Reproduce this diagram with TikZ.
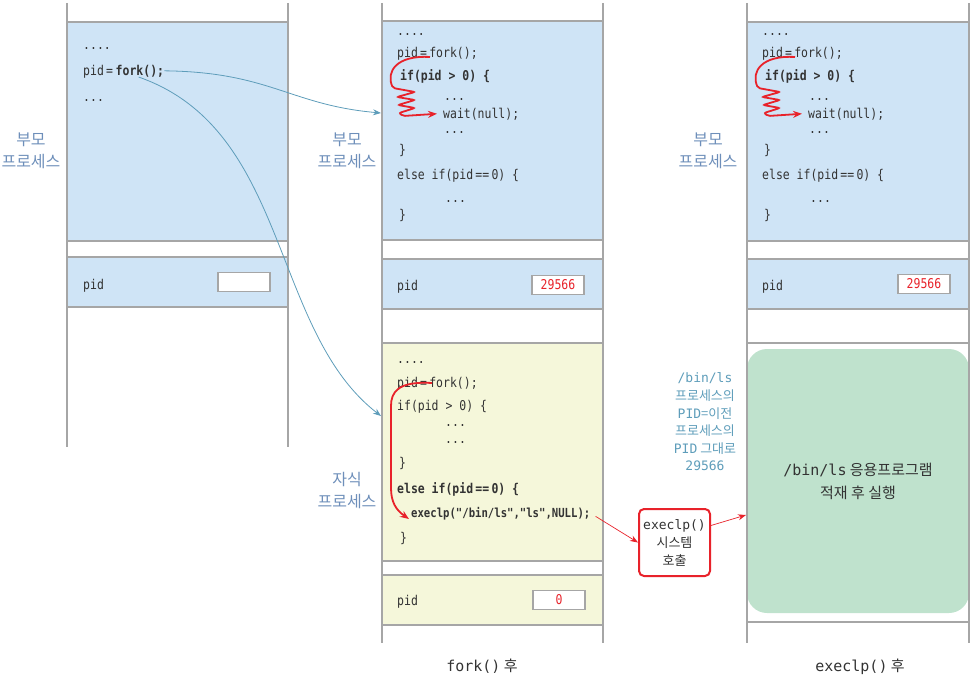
\documentclass[tikz,border=0pt]{standalone}
\usepackage{fontspec}
\setmainfont{Noto Sans CJK KR}
\setmonofont[FakeStretch=0.85]{DejaVu Sans Mono}
\newfontfamily\plainmono{DejaVu Sans Mono}
\usetikzlibrary{arrows.meta}

\definecolor{wallgray}{HTML}{A6A6A6}
\definecolor{parentblue}{HTML}{CFE4F6}
\definecolor{childyellow}{HTML}{F5F7DA}
\definecolor{loadgreen}{HTML}{BFE2CD}
\definecolor{labelblue}{HTML}{6E8FBA}
\definecolor{noteblue}{HTML}{5E9DBA}
\definecolor{flowred}{HTML}{E8222A}
\definecolor{inkgray}{HTML}{333333}

\begin{document}
\begin{tikzpicture}[x=1pt,y=-1pt,
  wall/.style={draw=wallgray,line width=1.5pt},
  parent/.style={wall,fill=parentblue},
  child/.style={wall,fill=childyellow},
  code/.style={anchor=base west,inner sep=0pt,text=inkgray,font=\ttfamily\fontsize{13.5}{15}\selectfont},
  boldcode/.style={code,font=\ttfamily\bfseries\fontsize{13.5}{15}\selectfont},
  side/.style={align=center,text=labelblue,font=\fontsize{16}{22}\selectfont},
  pidbox/.style={draw=wallgray,line width=1.5pt,fill=white,minimum width=52pt,minimum height=19pt,inner sep=0pt,text=flowred,font=\ttfamily\fontsize{13.5}{15}\selectfont},
  forkarrow/.style={draw=noteblue,line width=0.8pt,-{Stealth[length=8pt,width=6pt]}},
  trace/.style={draw=flowred,line width=1.8pt,-{Stealth[length=9pt,width=7pt]}},
  thinred/.style={draw=flowred,line width=0.7pt,-{Stealth[length=8pt,width=6pt]}}]
\useasboundingbox (0,0) rectangle (977,685);

\draw[parent] (67,22) rectangle (288,241);
\draw[parent] (67,257) rectangle (288,307);

\draw[parent] (382,21) rectangle (603,240);
\draw[parent] (382,259) rectangle (603,309);
\draw[child] (382,343) rectangle (603,561);
\draw[child] (382,575) rectangle (603,625);

\draw[parent] (747,22) rectangle (969,241);
\draw[parent] (747,259) rectangle (969,309);
\draw[wall] (747,343) -- (969,343);
\draw[wall] (747,622) -- (969,622);
\node[fill=loadgreen,rounded corners=20pt,minimum width=222pt,minimum height=264pt,align=center,text=inkgray,font=\fontsize{15}{23}\selectfont] (newimg) at (858,481) {{\plainmono /bin/ls} 응용프로그램\\적재 후 실행};

\draw[wall] (67,3) -- (67,447);
\draw[wall] (288,3) -- (288,447);
\draw[wall] (382,3) -- (382,643);
\draw[wall] (603,3) -- (603,643);
\draw[wall] (747,3) -- (747,643);
\draw[wall] (969,3) -- (969,643);

\node[code] (l0) at (83,49) {....};
\node[code] (lpid) at (83,75) {pid\,=};
\node[boldcode] (lfork) at (lpid.base east) {\,fork();};
\node[code] (l1) at (83,101) {...};
\node[code] (lpidlbl) at (83,289) {pid};
\node[pidbox] (lpidval) at (244,282) {};

\node[code] (m0) at (397,36) {....};
\node[code] (mfork) at (397,58) {pid\,=\,fork();};
\node[boldcode] (mif) at (400,81) {if(pid > 0) \{};
\node[code] (m1) at (444,100) {...};
\node[code] (mwait) at (443,118) {wait(null);};
\node[code] (m2) at (444,133) {...};
\node[code] (m3) at (399,154) {\}};
\node[code] (melse) at (397,179) {else if(pid\,==\,0) \{};
\node[code] (m4) at (445,202) {...};
\node[code] (m5) at (399,219) {\}};
\node[code] (mpidlbl) at (397,290) {pid};
\node[pidbox] (mpidval) at (558,285) {29566};

\node[code] (c0) at (397,363) {....};
\node[code] (cfork) at (397,387) {pid\,=\,fork();};
\node[code] (cif) at (397,410) {if(pid > 0) \{};
\node[code] (c1) at (445,426) {...};
\node[code] (c2) at (445,443) {...};
\node[code] (c3) at (399,467) {\}};
\node[boldcode] (celse) at (397,493) {else if(pid\,==\,0) \{};
\node[boldcode,font=\ttfamily\bfseries\fontsize{12.5}{14}\selectfont] (cexec) at (411,517) {execlp("/bin/ls","ls",NULL);};
\node[code] (c4) at (400,542) {\}};
\node[code] (cpidlbl) at (397,605) {pid};
\node[pidbox] (cpidval) at (559,600) {0};

\node[code] (r0) at (762,36) {....};
\node[code] (rfork) at (762,58) {pid\,=\,fork();};
\node[boldcode] (rif) at (765,81) {if(pid > 0) \{};
\node[code] (r1) at (809,100) {...};
\node[code] (rwait) at (808,118) {wait(null);};
\node[code] (r2) at (809,133) {...};
\node[code] (r3) at (764,154) {\}};
\node[code] (relse) at (762,179) {else if(pid\,==\,0) \{};
\node[code] (r4) at (810,202) {...};
\node[code] (r5) at (764,219) {\}};
\node[code] (rpidlbl) at (762,290) {pid};
\node[pidbox] (rpidval) at (924,284) {29566};

\node[side] (lpar) at (31,151) {부모\\프로세스};
\node[side] (mpar) at (347,151) {부모\\프로세스};
\node[side] (cpar) at (347,491) {자식\\프로세스};
\node[side] (rpar) at (708,151) {부모\\프로세스};

\node[align=center,text=noteblue,font=\fontsize{13}{17.6}\selectfont] (pidnote) at (705,422) {{\plainmono /bin/ls}\\프로세스의\\{\plainmono PID}=이전\\프로세스의\\{\plainmono PID} 그대로\\{\plainmono 29566}};

\node[draw=flowred,line width=2pt,rounded corners=5pt,minimum width=71pt,minimum height=67pt,inner sep=1pt,align=center,text=inkgray,font=\fontsize{13}{18}\selectfont] (sys) at (674.5,542.5) {{\plainmono execlp()}\\시스템\\호출};

\node[text=inkgray,font=\fontsize{15}{18}\selectfont] (forkcap) at (482,666) {{\plainmono fork()} 후};
\node[text=inkgray,font=\fontsize{15}{18}\selectfont] (execcap) at (860,667) {{\plainmono execlp()} 후};

\coordinate (min) at (381,113);
\coordinate (cin) at (381,416);
\coordinate (gin) at (746,515);

\draw[forkarrow] (lfork.east) .. controls (270,72) and (290,105) .. (min);
\draw[forkarrow] (lfork.south) .. controls (290,130) and (270,330) .. (cin);

\draw[trace,rounded corners=2pt] (430,57) .. controls (396,55) and (386,72) .. (393,88) -- (415,92) -- (397,97) -- (415,100) -- (398,105) -- (415,108) -- (399,113) -- (403,116) -- ([xshift=-6pt]mwait.west);
\draw[trace,rounded corners=2pt] (795,57) .. controls (761,55) and (751,72) .. (758,88) -- (780,92) -- (762,97) -- (780,100) -- (763,105) -- (780,108) -- (764,113) -- (768,116) -- ([xshift=-6pt]rwait.west);
\draw[trace] (432,383) .. controls (398,381) and (391,392) .. (391,406) -- (391,488) .. controls (391,502) and (396,510) .. (409,519);

\draw[thinred,shorten <=6pt] (cexec.east) -- (sys.west);
\draw[thinred] (sys.25) -- (gin);
\end{tikzpicture}
\end{document}
